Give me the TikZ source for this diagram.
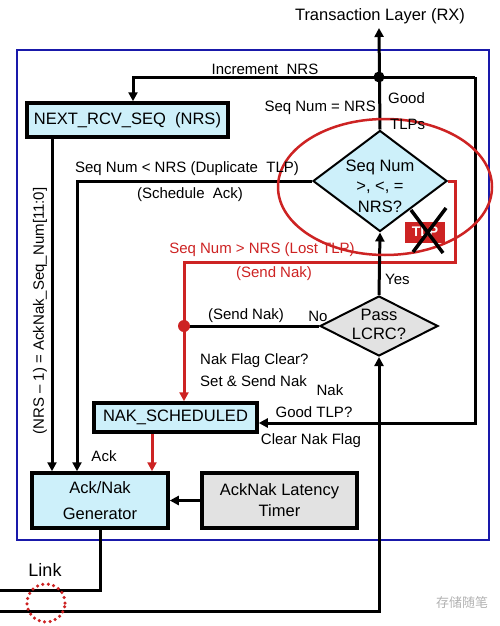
\documentclass[tikz,border=0pt]{standalone}
\usepackage{fontspec}
\setmainfont{Liberation Sans}
\newfontfamily\cjk{Noto Sans CJK SC}
\usetikzlibrary{arrows.meta,shapes.geometric}
\definecolor{boxcyan}{RGB}{205,240,250}
\definecolor{boxgray}{RGB}{226,226,226}
\definecolor{frameblue}{RGB}{25,25,170}
\definecolor{accred}{RGB}{205,35,35}
\begin{document}
\begin{tikzpicture}[x=1pt,y=-1pt,
  line/.style={line width=3pt},
  arr/.style={line width=3pt,-{Triangle[length=9pt,width=9pt]}},
  redarr/.style={line width=3pt,accred,-{Triangle[length=9pt,width=9pt]}},
  redline/.style={line width=3pt,accred},
  blk/.style={draw,line width=3.5pt,fill=boxcyan,inner sep=0pt,font=\fontsize{16.5}{21}\selectfont,align=center},
  gblk/.style={blk,fill=boxgray},
  dia/.style={diamond,draw,line width=2pt,inner sep=0pt},
  lbl/.style={inner sep=0pt,font=\fontsize{15}{20}\selectfont},
  rlbl/.style={lbl,text=accred}]
\useasboundingbox (0,0) rectangle (500,626);
% frame
\draw[frameblue,line width=2.5pt] (17,50) rectangle (489,540);
% lanes
\coordinate (xA) at (52,0);
\coordinate (xB) at (77,0);
\coordinate (xC) at (133,0);
\coordinate (xN) at (152,0);
\coordinate (xRL) at (184,0);
\coordinate (xRed) at (455,0);
\coordinate (xR) at (475,0);
\coordinate (yRed) at (0,262);
\coordinate (yNak) at (0,423);
\coordinate (top) at (379,28);
\coordinate (jn) at (379,77);
\coordinate (bot) at (379,611);
\coordinate (lnk1) at (0,590);
\coordinate (lnk2) at (0,611);
% nodes
\node[lbl,font=\fontsize{16.5}{20}\selectfont] (tl) at (380,16) {Transaction Layer (RX)};
\node[blk,minimum width=201pt,minimum height=34pt] (nrs) at (127.5,120) {NEXT\_RCV\_SEQ\ \ (NRS)};
\node[dia,fill=boxcyan,minimum width=134pt,minimum height=101pt] (seq) at (380,181) {};
\node[lbl,align=center,font=\fontsize{16.5}{20.5}\selectfont] (seqt) at (380,186) {Seq Num\\>, <, =\\NRS?};
\node[dia,fill=boxgray,minimum width=118pt,minimum height=60pt] (lcrc) at (379,326) {};
\node[lbl,align=center,font=\fontsize{16.5}{19}\selectfont] (lcrct) at (379,324) {Pass\\LCRC?};
\node[blk,minimum width=163pt,minimum height=29pt] (nak) at (175.5,417.5) {NAK\_SCHEDULED};
\node[blk,minimum width=136pt,minimum height=55pt,font=\fontsize{16.5}{26}\selectfont] (gen) at (100,500.5) {Ack/Nak\\Generator};
\node[gblk,minimum width=155pt,minimum height=55pt,font=\fontsize{16.5}{21}\selectfont] (timer) at (279.5,500.5) {AckNak Latency\\Timer};
% connectors
\draw[arr] (seq.north) -- (top);
\draw[arr] (xR |- jn) -- (xC |- jn) -- (xC |- nrs.north);
\draw[arr] (xR |- jn) -- (xR |- yNak) -- (nak.east |- yNak);
\fill (jn) circle (5.5pt);
\draw[arr] (nrs.south -| xA) -- (gen.north -| xA);
\draw[arr] (seq.west) -- (seq.west -| xB) -- (gen.north -| xB);
\draw[redarr] (seq.east) -- (seq.east -| xRed) -- (xRed |- yRed) -- (xRL |- yRed) -- (nak.north -| xRL);
\draw[line] (lcrc.west) -- (lcrc.west -| xRL);
\fill[accred] (lcrc.west -| xRL) circle (6pt);
\draw[arr] (lcrc.north) -- (seq.south);
\draw[arr] (lnk2) -- (bot) -- (lcrc.south);
\draw[redarr] (nak.south -| xN) -- (gen.north -| xN);
\draw[arr] (timer.west) -- (gen.east);
\draw[line] (gen.south) -- (gen.south |- lnk1) -- (lnk1);
% red ellipse and dropped TLP
\draw[accred,line width=2.5pt] (385,187) ellipse [x radius=107pt, y radius=68pt];
\node[fill=accred,text=white,inner sep=0pt,minimum width=40pt,minimum height=21pt,font=\fontsize{14}{16}\selectfont\bfseries] (tlp) at (425,232) {TLP};
\draw[line width=3.5pt] (411,210) -- (443,253);
\draw[line width=3.5pt] (446,208) -- (413,252);
% labels
\node[lbl] (l1) at (265,69) {Increment\ \ NRS};
\node[lbl,anchor=east] (l2) at (376,108) {Seq Num = NRS};
\node[lbl,anchor=west] (l3) at (388,98) {Good};
\node[lbl,anchor=west] (l4) at (390,124) {TLPs};
\node[lbl] (l5) at (187,169) {Seq Num < NRS (Duplicate\ \ TLP)};
\node[lbl] (l6) at (190,195) {(Schedule\ \ Ack)};
\node[rlbl] (l7) at (262,250) {Seq Num > NRS (Lost TLP)};
\node[rlbl] (l8) at (274,274) {(Send Nak)};
\node[lbl,anchor=west] (l9) at (385,279) {Yes};
\node[lbl] (l10) at (246,316) {(Send Nak)};
\node[lbl] (l11) at (318,316) {No};
\node[lbl,anchor=west] (l12) at (200,361) {Nak Flag Clear?};
\node[lbl,anchor=west] (l13) at (200,381) {Set \& Send Nak};
\node[lbl] (l14) at (330,390) {Nak};
\node[lbl] (l15) at (314,412) {Good TLP?};
\node[lbl] (l16) at (311,441) {Clear Nak Flag};
\node[lbl] (l17) at (104,456) {Ack};
\node[lbl,rotate=90] (l18) at (40,311) {(NRS -- 1) = AckNak\_Seq\_Num[11:0]};
\node[lbl,font=\fontsize{18}{20}\selectfont] (lk) at (45,570) {Link};
\draw[accred,line width=3.5pt,dash pattern=on 0pt off 5.5pt,line cap=round] (46,603) circle (19pt);
% watermark
\node[lbl,text=black!30,font=\cjk\fontsize{13}{15}\selectfont] (wm) at (462,603) {存储随笔};
\end{tikzpicture}
\end{document}
